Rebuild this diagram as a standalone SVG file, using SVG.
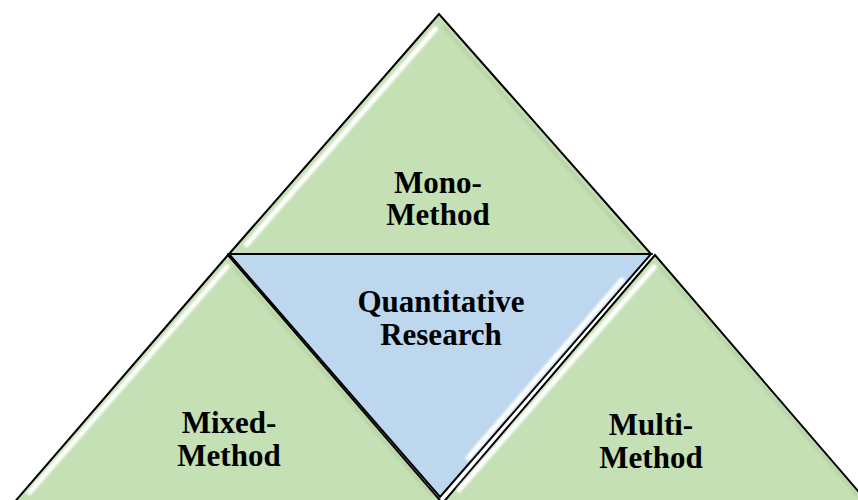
<svg xmlns="http://www.w3.org/2000/svg" width="858" height="500" viewBox="0 0 858 500">
  <defs>
    <filter id="soft" x="-20%" y="-20%" width="140%" height="140%">
      <feGaussianBlur stdDeviation="1.1"/>
    </filter>
    <style>
      .green { fill: #c5e0b4; stroke: #000; stroke-width: 2; stroke-linejoin: miter; }
      .blue { fill: #bdd7ee; stroke: #000; stroke-width: 2; stroke-linejoin: miter; }
      .hl { fill: none; stroke: #ffffff; stroke-width: 5; stroke-linecap: round; opacity: 1; filter: url(#soft); }
      .shade { fill: none; stroke: #a9c89a; stroke-width: 3; opacity: 0.5; filter: url(#soft); }
      .label { font-family: "Liberation Serif", "Times New Roman", serif; font-weight: bold; font-size: 31px; fill: #000; text-anchor: middle; }
    </style>
  </defs>

  <g id="mono-method">
    <polygon class="green" points="439,14 229,254 651,254"/>
    <polyline class="hl" points="435.5,29 246.5,244.6"/>
    <polyline class="shade" points="443,26 640,250"/>
    <text class="label" x="438" y="193">Mono-</text>
    <text class="label" x="438" y="225">Method</text>
  </g>

  <g id="quantitative-research">
    <polygon class="blue" points="229,254 651,254 440,497"/>
    <polyline class="hl" points="622,280 468,458"/>
    <text class="label" x="441" y="312">Quantitative</text>
    <text class="label" x="441" y="345">Research</text>
  </g>

  <g id="mixed-method">
    <polygon class="green" points="228,255 12,505 444,505"/>
    <polyline class="hl" points="227.2,266.6 29.4,492.6"/>
    <polyline class="shade" points="232,266 432,496"/>
    <text class="label" x="229" y="433">Mixed-</text>
    <text class="label" x="229" y="466">Method</text>
  </g>

  <g id="multi-method">
    <polygon class="green" points="655,255 441,505 870,505"/>
    <polyline class="hl" points="654.2,267 459,490"/>
    <polyline class="shade" points="659,266 858,496"/>
    <text class="label" x="651" y="435">Multi-</text>
    <text class="label" x="651" y="468">Method</text>
  </g>

  <g id="connectors"></g>
</svg>
